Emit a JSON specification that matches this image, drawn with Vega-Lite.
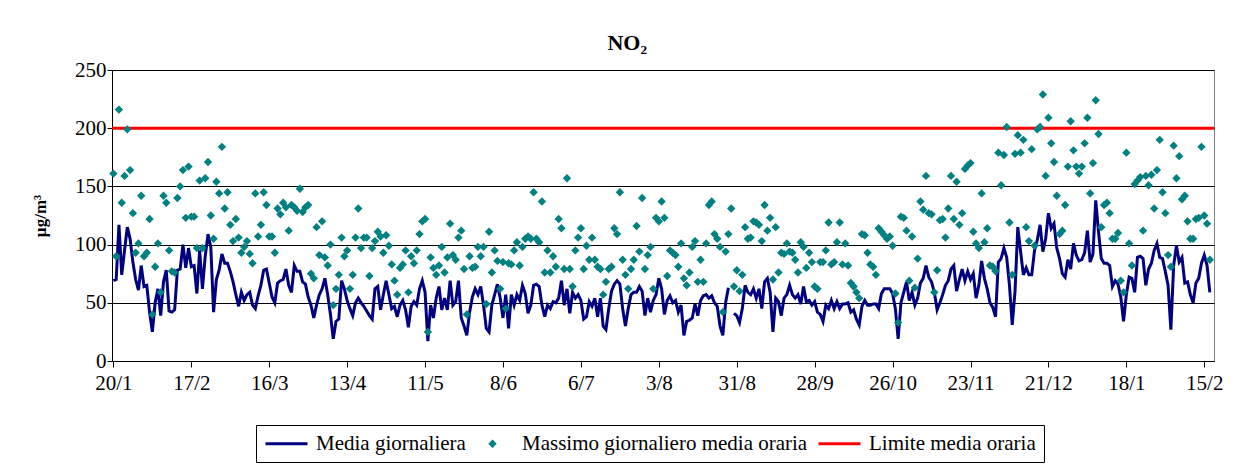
{
"$schema":"https://vega.github.io/schema/vega-lite/v6.json",
"width":1102,"height":291,
"autosize":"none",
"padding":{"left":112,"top":70,"right":33,"bottom":110},
"config":{"font":"Liberation Serif","view":{"stroke":"#808080","strokeWidth":1}},
"title":{"text":"NO₂","fontSize":22,"fontWeight":"bold","font":"Liberation Serif","anchor":"middle","frame":"bounds","offset":4,"color":"black"},
"data":{"values":[
{"d":"2004-01-20","m":69,"mx":161},{"d":"2004-01-21","m":70,"mx":90},{"d":"2004-01-22","m":117,"mx":216},{"d":"2004-01-23","m":74,"mx":136},{"d":"2004-01-24","m":95,"mx":159},{"d":"2004-01-25","m":115,"mx":199},{"d":"2004-01-26","m":105,"mx":164},{"d":"2004-01-27","m":85,"mx":127},{"d":"2004-01-28","m":70,"mx":93},{"d":"2004-01-29","m":61,"mx":101},{"d":"2004-01-30","m":82,"mx":142},{"d":"2004-01-31","m":64,"mx":90},
{"d":"2004-02-01","m":65,"mx":93},{"d":"2004-02-02","m":42,"mx":122},{"d":"2004-02-03","m":25,"mx":40},{"d":"2004-02-04","m":50,"mx":81},{"d":"2004-02-05","m":62,"mx":101},{"d":"2004-02-06","m":39,"mx":59},{"d":"2004-02-07","m":68,"mx":142},{"d":"2004-02-08","m":78,"mx":136},{"d":"2004-02-09","m":43,"mx":95},{"d":"2004-02-10","m":42,"mx":77},{"d":"2004-02-11","m":44,"mx":76},{"d":"2004-02-12","m":78,"mx":140},{"d":"2004-02-13","m":79,"mx":150},{"d":"2004-02-14","m":100,"mx":164},{"d":"2004-02-15","m":80,"mx":123},{"d":"2004-02-16","m":97,"mx":167},{"d":"2004-02-17","m":81,"mx":124},{"d":"2004-02-18","m":82,"mx":124},{"d":"2004-02-19","m":58,"mx":97},{"d":"2004-02-20","m":95,"mx":155},{"d":"2004-02-21","m":62,"mx":97},{"d":"2004-02-22","m":90,"mx":157},{"d":"2004-02-23","m":109,"mx":171},{"d":"2004-02-24","m":98,"mx":125},{"d":"2004-02-25","m":42,"mx":105},{"d":"2004-02-26","m":70,"mx":154},{"d":"2004-02-27","m":78,"mx":144},{"d":"2004-02-28","m":92,"mx":184},{"d":"2004-02-29","m":84,"mx":131},
{"d":"2004-03-01","m":84,"mx":145},{"d":"2004-03-02","m":77,"mx":117},{"d":"2004-03-03","m":68,"mx":103},{"d":"2004-03-04","m":57,"mx":122},{"d":"2004-03-05","m":47,"mx":106},{"d":"2004-03-06","m":59,"mx":93},{"d":"2004-03-07","m":52,"mx":98},{"d":"2004-03-08","m":57,"mx":103},{"d":"2004-03-09","m":59,"mx":92},{"d":"2004-03-10","m":48,"mx":84},{"d":"2004-03-11","m":45,"mx":144},{"d":"2004-03-12","m":56,"mx":107},{"d":"2004-03-13","m":65,"mx":117},{"d":"2004-03-14","m":78,"mx":145},{"d":"2004-03-15","m":79,"mx":134},{"d":"2004-03-16","m":67,"mx":107},{"d":"2004-03-17","m":55,"mx":107},{"d":"2004-03-18","m":50,"mx":93},{"d":"2004-03-19","m":67,"mx":131},{"d":"2004-03-20","m":69,"mx":126},{"d":"2004-03-21","m":70,"mx":136},{"d":"2004-03-22","m":79,"mx":132},{"d":"2004-03-23","m":65,"mx":112},{"d":"2004-03-24","m":59,"mx":134},{"d":"2004-03-25","m":82,"mx":132},{"d":"2004-03-26","m":77,"mx":129},{"d":"2004-03-27","m":77,"mx":148},{"d":"2004-03-28","m":68,"mx":128},{"d":"2004-03-29","m":66,"mx":132},{"d":"2004-03-30","m":55,"mx":134},{"d":"2004-03-31","m":48,"mx":75},
{"d":"2004-04-01","m":37,"mx":71},{"d":"2004-04-02","m":48,"mx":115},{"d":"2004-04-03","m":57,"mx":91},{"d":"2004-04-04","m":62,"mx":120},{"d":"2004-04-05","m":71,"mx":89},{"d":"2004-04-06","m":57,"mx":82},{"d":"2004-04-07","m":40,"mx":100},{"d":"2004-04-08","m":19,"mx":48},{"d":"2004-04-09","m":34,"mx":62},{"d":"2004-04-10","m":36,"mx":74},{"d":"2004-04-11","m":69,"mx":106},{"d":"2004-04-12","m":62,"mx":90},{"d":"2004-04-13","m":52,"mx":95},{"d":"2004-04-14","m":45,"mx":62},{"d":"2004-04-15","m":39,"mx":74},{"d":"2004-04-16","m":50,"mx":106},{"d":"2004-04-17","m":54,"mx":131},{"d":"2004-04-18","m":50,"mx":97},{"d":"2004-04-19","m":47,"mx":106},{"d":"2004-04-20","m":43,"mx":106},{"d":"2004-04-21","m":39,"mx":73},{"d":"2004-04-22","m":36,"mx":97},{"d":"2004-04-23","m":62,"mx":103},{"d":"2004-04-24","m":64,"mx":111},{"d":"2004-04-25","m":44,"mx":107},{"d":"2004-04-26","m":57,"mx":93},{"d":"2004-04-27","m":69,"mx":108},{"d":"2004-04-28","m":57,"mx":99},{"d":"2004-04-29","m":45,"mx":83},{"d":"2004-04-30","m":47,"mx":69},
{"d":"2004-05-01","m":38,"mx":57},{"d":"2004-05-02","m":48,"mx":80},{"d":"2004-05-03","m":52,"mx":83},{"d":"2004-05-04","m":44,"mx":95},{"d":"2004-05-05","m":29,"mx":59},{"d":"2004-05-06","m":47,"mx":90},{"d":"2004-05-07","m":51,"mx":84},{"d":"2004-05-08","m":48,"mx":95},{"d":"2004-05-09","m":62,"mx":109},{"d":"2004-05-10","m":69,"mx":120},{"d":"2004-05-11","m":59,"mx":122},{"d":"2004-05-12","m":17,"mx":25},{"d":"2004-05-13","m":48,"mx":89},{"d":"2004-05-14","m":37,"mx":80},{"d":"2004-05-15","m":54,"mx":74},{"d":"2004-05-16","m":64,"mx":82},{"d":"2004-05-17","m":44,"mx":98},{"d":"2004-05-18","m":54,"mx":76},{"d":"2004-05-19","m":44,"mx":89},{"d":"2004-05-20","m":69,"mx":118},{"d":"2004-05-21","m":48,"mx":91},{"d":"2004-05-22","m":51,"mx":87},{"d":"2004-05-23","m":69,"mx":106},{"d":"2004-05-24","m":37,"mx":112},{"d":"2004-05-25","m":30,"mx":79},{"d":"2004-05-26","m":22,"mx":40},{"d":"2004-05-27","m":42,"mx":90},{"d":"2004-05-28","m":55,"mx":80},{"d":"2004-05-29","m":62,"mx":81},{"d":"2004-05-30","m":57,"mx":98},{"d":"2004-05-31","m":64,"mx":90},
{"d":"2004-06-01","m":48,"mx":98},{"d":"2004-06-02","m":28,"mx":49},{"d":"2004-06-03","m":25,"mx":111},{"d":"2004-06-04","m":48,"mx":76},{"d":"2004-06-05","m":57,"mx":95},{"d":"2004-06-06","m":66,"mx":86},{"d":"2004-06-07","m":54,"mx":62},{"d":"2004-06-08","m":37,"mx":85},{"d":"2004-06-09","m":57,"mx":45},{"d":"2004-06-10","m":28,"mx":84},{"d":"2004-06-11","m":57,"mx":83},{"d":"2004-06-12","m":48,"mx":95},{"d":"2004-06-13","m":57,"mx":102},{"d":"2004-06-14","m":52,"mx":82},{"d":"2004-06-15","m":65,"mx":98},{"d":"2004-06-16","m":58,"mx":105},{"d":"2004-06-17","m":41,"mx":107},{"d":"2004-06-18","m":48,"mx":105},{"d":"2004-06-19","m":65,"mx":145},{"d":"2004-06-20","m":66,"mx":105},{"d":"2004-06-21","m":64,"mx":102},{"d":"2004-06-22","m":48,"mx":137},{"d":"2004-06-23","m":38,"mx":76},{"d":"2004-06-24","m":48,"mx":95},{"d":"2004-06-25","m":45,"mx":76},{"d":"2004-06-26","m":51,"mx":90},{"d":"2004-06-27","m":50,"mx":81},{"d":"2004-06-28","m":54,"mx":122},{"d":"2004-06-29","m":69,"mx":114},{"d":"2004-06-30","m":48,"mx":79},
{"d":"2004-07-01","m":62,"mx":157},{"d":"2004-07-02","m":41,"mx":79},{"d":"2004-07-03","m":59,"mx":64},{"d":"2004-07-04","m":54,"mx":95},{"d":"2004-07-05","m":57,"mx":106},{"d":"2004-07-06","m":52,"mx":114},{"d":"2004-07-07","m":36,"mx":79},{"d":"2004-07-08","m":38,"mx":99},{"d":"2004-07-09","m":51,"mx":87},{"d":"2004-07-10","m":47,"mx":106},{"d":"2004-07-11","m":54,"mx":87},{"d":"2004-07-12","m":38,"mx":81},{"d":"2004-07-13","m":54,"mx":79},{"d":"2004-07-14","m":30,"mx":57},{"d":"2004-07-15","m":27,"mx":68},{"d":"2004-07-16","m":45,"mx":79},{"d":"2004-07-17","m":60,"mx":81},{"d":"2004-07-18","m":66,"mx":114},{"d":"2004-07-19","m":69,"mx":109},{"d":"2004-07-20","m":66,"mx":145},{"d":"2004-07-21","m":45,"mx":87},{"d":"2004-07-22","m":30,"mx":74},{"d":"2004-07-23","m":45,"mx":62},{"d":"2004-07-24","m":57,"mx":79},{"d":"2004-07-25","m":59,"mx":87},{"d":"2004-07-26","m":59,"mx":116},{"d":"2004-07-27","m":64,"mx":94},{"d":"2004-07-28","m":60,"mx":140},{"d":"2004-07-29","m":39,"mx":79},{"d":"2004-07-30","m":54,"mx":91},{"d":"2004-07-31","m":42,"mx":98},
{"d":"2004-08-01","m":52,"mx":62},{"d":"2004-08-02","m":57,"mx":123},{"d":"2004-08-03","m":71,"mx":120},{"d":"2004-08-04","m":62,"mx":137},{"d":"2004-08-05","m":40,"mx":123},{"d":"2004-08-06","m":52,"mx":73},{"d":"2004-08-07","m":56,"mx":95},{"d":"2004-08-08","m":50,"mx":93},{"d":"2004-08-09","m":52,"mx":91},{"d":"2004-08-10","m":42,"mx":81},{"d":"2004-08-11","m":48,"mx":101},{"d":"2004-08-12","m":22,"mx":71},{"d":"2004-08-13","m":34,"mx":65},{"d":"2004-08-14","m":35,"mx":76},{"d":"2004-08-15","m":37,"mx":98},{"d":"2004-08-16","m":49,"mx":103},{"d":"2004-08-17","m":39,"mx":68},{"d":"2004-08-18","m":52,"mx":87},{"d":"2004-08-19","m":56,"mx":68},{"d":"2004-08-20","m":57,"mx":101},{"d":"2004-08-21","m":54,"mx":134},{"d":"2004-08-22","m":56,"mx":137},{"d":"2004-08-23","m":50,"mx":109},{"d":"2004-08-24","m":47,"mx":105},{"d":"2004-08-25","m":30,"mx":98},{"d":"2004-08-26","m":22,"mx":42},{"d":"2004-08-27","m":50,"mx":94},{"d":"2004-08-28","m":63,"mx":109},{"d":"2004-08-29","m":null,"mx":131},{"d":"2004-08-30","m":41,"mx":64},{"d":"2004-08-31","m":39,"mx":78},
{"d":"2004-09-01","m":33,"mx":60},{"d":"2004-09-02","m":45,"mx":74},{"d":"2004-09-03","m":65,"mx":115},{"d":"2004-09-04","m":59,"mx":105},{"d":"2004-09-05","m":57,"mx":106},{"d":"2004-09-06","m":62,"mx":120},{"d":"2004-09-07","m":54,"mx":119},{"d":"2004-09-08","m":62,"mx":117},{"d":"2004-09-09","m":45,"mx":103},{"d":"2004-09-10","m":68,"mx":134},{"d":"2004-09-11","m":71,"mx":112},{"d":"2004-09-12","m":59,"mx":123},{"d":"2004-09-13","m":25,"mx":70},{"d":"2004-09-14","m":54,"mx":115},{"d":"2004-09-15","m":51,"mx":76},{"d":"2004-09-16","m":39,"mx":93},{"d":"2004-09-17","m":54,"mx":92},{"d":"2004-09-18","m":57,"mx":101},{"d":"2004-09-19","m":65,"mx":94},{"d":"2004-09-20","m":57,"mx":93},{"d":"2004-09-21","m":54,"mx":87},{"d":"2004-09-22","m":57,"mx":76},{"d":"2004-09-23","m":49,"mx":102},{"d":"2004-09-24","m":64,"mx":98},{"d":"2004-09-25","m":51,"mx":80},{"d":"2004-09-26","m":52,"mx":93},{"d":"2004-09-27","m":48,"mx":85},{"d":"2004-09-28","m":51,"mx":64},{"d":"2004-09-29","m":42,"mx":62},{"d":"2004-09-30","m":40,"mx":85},
{"d":"2004-10-01","m":34,"mx":85},{"d":"2004-10-02","m":48,"mx":95},{"d":"2004-10-03","m":45,"mx":119},{"d":"2004-10-04","m":52,"mx":83},{"d":"2004-10-05","m":45,"mx":85},{"d":"2004-10-06","m":51,"mx":102},{"d":"2004-10-07","m":45,"mx":119},{"d":"2004-10-08","m":49,"mx":83},{"d":"2004-10-09","m":49,"mx":101},{"d":"2004-10-10","m":50,"mx":82},{"d":"2004-10-11","m":42,"mx":67},{"d":"2004-10-12","m":44,"mx":64},{"d":"2004-10-13","m":36,"mx":59},{"d":"2004-10-14","m":31,"mx":54},{"d":"2004-10-15","m":47,"mx":109},{"d":"2004-10-16","m":52,"mx":108},{"d":"2004-10-17","m":48,"mx":93},{"d":"2004-10-18","m":48,"mx":83},{"d":"2004-10-19","m":49,"mx":81},{"d":"2004-10-20","m":49,"mx":74},{"d":"2004-10-21","m":45,"mx":114},{"d":"2004-10-22","m":58,"mx":111},{"d":"2004-10-23","m":62,"mx":108},{"d":"2004-10-24","m":62,"mx":105},{"d":"2004-10-25","m":62,"mx":107},{"d":"2004-10-26","m":58,"mx":99},{"d":"2004-10-27","m":45,"mx":58},{"d":"2004-10-28","m":19,"mx":33},{"d":"2004-10-29","m":50,"mx":124},{"d":"2004-10-30","m":59,"mx":123},{"d":"2004-10-31","m":68,"mx":112},
{"d":"2004-11-01","m":52,"mx":69},{"d":"2004-11-02","m":59,"mx":107},{"d":"2004-11-03","m":48,"mx":63},{"d":"2004-11-04","m":54,"mx":88},{"d":"2004-11-05","m":67,"mx":137},{"d":"2004-11-06","m":71,"mx":130},{"d":"2004-11-07","m":82,"mx":159},{"d":"2004-11-08","m":72,"mx":127},{"d":"2004-11-09","m":68,"mx":126},{"d":"2004-11-10","m":59,"mx":59},{"d":"2004-11-11","m":44,"mx":78},{"d":"2004-11-12","m":50,"mx":121},{"d":"2004-11-13","m":57,"mx":122},{"d":"2004-11-14","m":65,"mx":106},{"d":"2004-11-15","m":69,"mx":131},{"d":"2004-11-16","m":79,"mx":159},{"d":"2004-11-17","m":82,"mx":122},{"d":"2004-11-18","m":60,"mx":154},{"d":"2004-11-19","m":70,"mx":117},{"d":"2004-11-20","m":79,"mx":127},{"d":"2004-11-21","m":69,"mx":165},{"d":"2004-11-22","m":77,"mx":168},{"d":"2004-11-23","m":70,"mx":170},{"d":"2004-11-24","m":75,"mx":111},{"d":"2004-11-25","m":54,"mx":101},{"d":"2004-11-26","m":65,"mx":97},{"d":"2004-11-27","m":86,"mx":144},{"d":"2004-11-28","m":71,"mx":102},{"d":"2004-11-29","m":62,"mx":114},{"d":"2004-11-30","m":50,"mx":82},
{"d":"2004-12-01","m":46,"mx":81},{"d":"2004-12-02","m":38,"mx":77},{"d":"2004-12-03","m":85,"mx":179},{"d":"2004-12-04","m":88,"mx":151},{"d":"2004-12-05","m":97,"mx":177},{"d":"2004-12-06","m":89,"mx":201},{"d":"2004-12-07","m":65,"mx":119},{"d":"2004-12-08","m":31,"mx":74},{"d":"2004-12-09","m":60,"mx":178},{"d":"2004-12-10","m":115,"mx":194},{"d":"2004-12-11","m":94,"mx":179},{"d":"2004-12-12","m":74,"mx":190},{"d":"2004-12-13","m":80,"mx":115},{"d":"2004-12-14","m":74,"mx":103},{"d":"2004-12-15","m":74,"mx":182},{"d":"2004-12-16","m":95,"mx":99},{"d":"2004-12-17","m":104,"mx":199},{"d":"2004-12-18","m":117,"mx":201},{"d":"2004-12-19","m":94,"mx":229},{"d":"2004-12-20","m":105,"mx":159},{"d":"2004-12-21","m":127,"mx":209},{"d":"2004-12-22","m":114,"mx":187},{"d":"2004-12-23","m":118,"mx":171},{"d":"2004-12-24","m":97,"mx":142},{"d":"2004-12-25","m":88,"mx":109},{"d":"2004-12-26","m":75,"mx":112},{"d":"2004-12-27","m":72,"mx":134},{"d":"2004-12-28","m":87,"mx":167},{"d":"2004-12-29","m":79,"mx":206},{"d":"2004-12-30","m":101,"mx":181},{"d":"2004-12-31","m":91,"mx":167},
{"d":"2005-01-01","m":86,"mx":161},{"d":"2005-01-02","m":87,"mx":167},{"d":"2005-01-03","m":93,"mx":187},{"d":"2005-01-04","m":112,"mx":209},{"d":"2005-01-05","m":85,"mx":144},{"d":"2005-01-06","m":92,"mx":170},{"d":"2005-01-07","m":138,"mx":224},{"d":"2005-01-08","m":111,"mx":195},{"d":"2005-01-09","m":88,"mx":115},{"d":"2005-01-10","m":84,"mx":134},{"d":"2005-01-11","m":84,"mx":136},{"d":"2005-01-12","m":82,"mx":127},{"d":"2005-01-13","m":64,"mx":105},{"d":"2005-01-14","m":69,"mx":105},{"d":"2005-01-15","m":66,"mx":110},{"d":"2005-01-16","m":55,"mx":69},{"d":"2005-01-17","m":34,"mx":59},{"d":"2005-01-18","m":57,"mx":179},{"d":"2005-01-19","m":72,"mx":101},{"d":"2005-01-20","m":71,"mx":82},{"d":"2005-01-21","m":59,"mx":152},{"d":"2005-01-22","m":89,"mx":155},{"d":"2005-01-23","m":90,"mx":158},{"d":"2005-01-24","m":88,"mx":112},{"d":"2005-01-25","m":65,"mx":159},{"d":"2005-01-26","m":79,"mx":151},{"d":"2005-01-27","m":84,"mx":160},{"d":"2005-01-28","m":95,"mx":131},{"d":"2005-01-29","m":101,"mx":164},{"d":"2005-01-30","m":89,"mx":190},{"d":"2005-01-31","m":88,"mx":145},
{"d":"2005-02-01","m":77,"mx":127},{"d":"2005-02-02","m":65,"mx":91},{"d":"2005-02-03","m":27,"mx":81},{"d":"2005-02-04","m":82,"mx":185},{"d":"2005-02-05","m":99,"mx":157},{"d":"2005-02-06","m":85,"mx":176},{"d":"2005-02-07","m":89,"mx":139},{"d":"2005-02-08","m":67,"mx":142},{"d":"2005-02-09","m":68,"mx":120},{"d":"2005-02-10","m":57,"mx":105},{"d":"2005-02-11","m":50,"mx":105},{"d":"2005-02-12","m":67,"mx":122},{"d":"2005-02-13","m":71,"mx":123},{"d":"2005-02-14","m":84,"mx":184},{"d":"2005-02-15","m":91,"mx":125},{"d":"2005-02-16","m":82,"mx":118},{"d":"2005-02-17","m":59,"mx":87}
]},
"layer":[
{"mark":{"type":"line","strokeWidth":3},
 "encoding":{
  "x":{"field":"d","type":"temporal",
   "scale":{"type":"utc","domain":[{"year":2004,"month":1,"date":19,"hours":12,"utc":true},{"year":2005,"month":2,"date":18,"hours":12,"utc":true}]},
   "axis":{"title":null,"labelExpr":"utcFormat(datum.value, '%-d/%-m')","grid":false,
    "values":[{"year":2004,"month":1,"date":20,"utc":true},{"year":2004,"month":2,"date":17,"utc":true},{"year":2004,"month":3,"date":16,"utc":true},{"year":2004,"month":4,"date":13,"utc":true},{"year":2004,"month":5,"date":11,"utc":true},{"year":2004,"month":6,"date":8,"utc":true},{"year":2004,"month":7,"date":6,"utc":true},{"year":2004,"month":8,"date":3,"utc":true},{"year":2004,"month":8,"date":31,"utc":true},{"year":2004,"month":9,"date":28,"utc":true},{"year":2004,"month":10,"date":26,"utc":true},{"year":2004,"month":11,"date":23,"utc":true},{"year":2004,"month":12,"date":21,"utc":true},{"year":2005,"month":1,"date":18,"utc":true},{"year":2005,"month":2,"date":15,"utc":true}],
    "labelFont":"Liberation Serif","labelFontSize":21,"labelColor":"black","labelPadding":5,"labelFlush":false,"labelOverlap":false,
    "domainColor":"black","tickColor":"black","tickSize":6}},
  "y":{"field":"m","type":"quantitative","title":"µg/m³",
   "scale":{"domain":[0,250],"nice":false,"zero":true},
   "axis":{"values":[0,50,100,150,200,250],"grid":true,"gridColor":"black","gridWidth":1,"gridOpacity":1,
    "labelFont":"Liberation Serif","labelFontSize":21,"labelColor":"black","labelPadding":1,
    "domainColor":"black","tickColor":"black","tickSize":5,
    "titleFont":"Liberation Serif","titleFontSize":17,"titleFontWeight":"bold","titleColor":"black","titlePadding":25}},
  "color":{"datum":"Media giornaliera","type":"nominal",
   "scale":{"domain":["Media giornaliera","Massimo giornaliero media oraria","Limite media oraria"],"range":["#000080","#008080","#FF0000"]},
   "legend":{"title":null,"orient":"none","legendX":144,"legendY":355,"direction":"horizontal",
    "strokeColor":"black","padding":8,"fillColor":"white",
    "labelFont":"Liberation Serif","labelFontSize":21,"labelColor":"black","labelOffset":19,"labelLimit":500,"columnPadding":4,
    "symbolSize":324,"symbolStrokeWidth":3,"symbolType":"stroke","symbolOffset":12,
    "encode":{"symbols":{"update":{
     "shape":{"signal":"datum.label === 'Massimo giornaliero media oraria' ? 'diamond' : 'stroke'"},
     "size":{"signal":"datum.label === 'Massimo giornaliero media oraria' ? 70 : 1764"},
     "fill":{"signal":"datum.label === 'Massimo giornaliero media oraria' ? '#008080' : 'transparent'"},
     "strokeWidth":{"signal":"datum.label === 'Massimo giornaliero media oraria' ? 0 : 3"}}}}}}
 }},
{"data":{"values":[{"lim":200}]},
 "mark":{"type":"rule","strokeWidth":3},
 "encoding":{"y":{"field":"lim","type":"quantitative","title":"µg/m³"},
  "color":{"datum":"Limite media oraria","type":"nominal"}}},
{"mark":{"type":"point","shape":"diamond","filled":true,"size":70,"opacity":1},
 "encoding":{
  "x":{"field":"d","type":"temporal"},
  "y":{"field":"mx","type":"quantitative","title":"µg/m³"},
  "color":{"datum":"Massimo giornaliero media oraria","type":"nominal"}}}
]
}
